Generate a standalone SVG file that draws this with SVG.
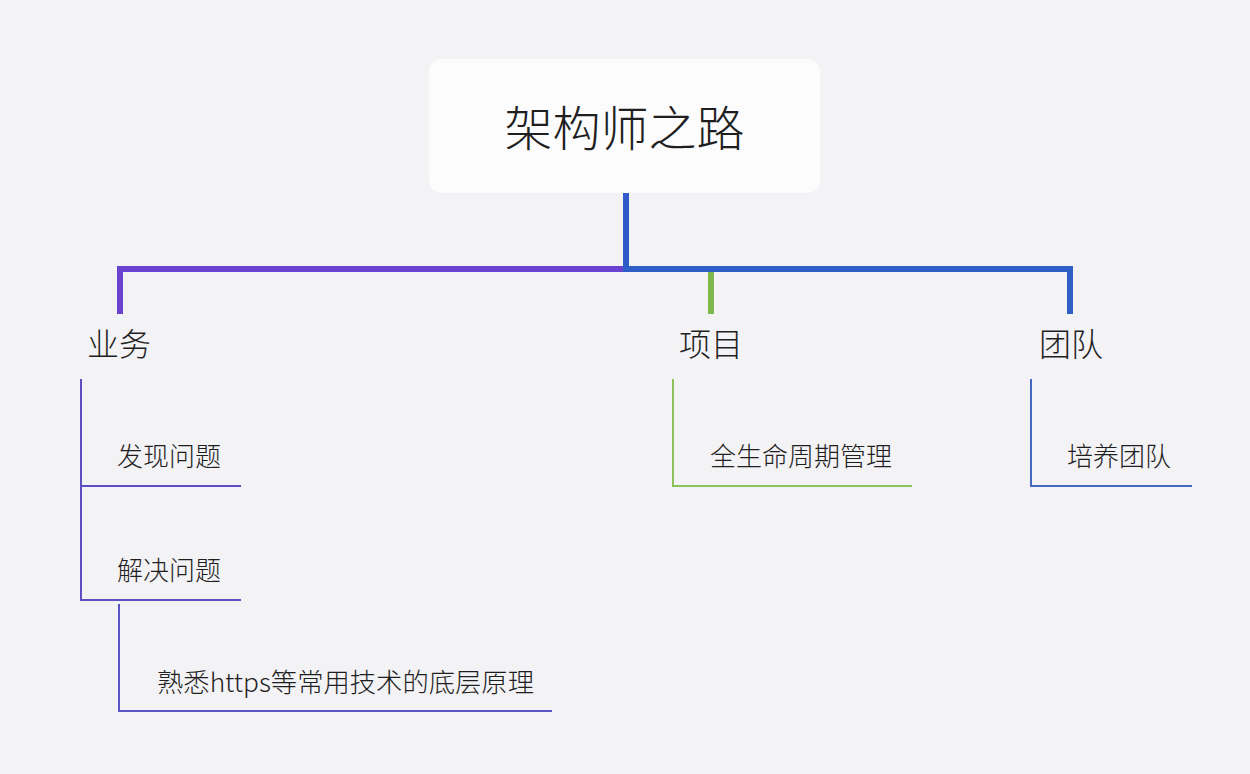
<svg xmlns="http://www.w3.org/2000/svg" width="1250" height="774" viewBox="0 0 1250 774">
<style>
text{font-family:"Noto Sans CJK SC","Noto Sans",sans-serif;fill:#1f1f1f;font-weight:300}
.root{font-size:48px}
.l1{font-size:32px}
.l2{font-size:26px}
.main{fill:none;stroke-width:6;stroke-linecap:butt}
.sub{fill:none;stroke-width:2}
</style>
<rect width="1250" height="774" fill="#f3f2f5"/>
<g id="connectors">
<path class="main" d="M626 193V269" stroke="#2f5cc8"/>
<path class="main" d="M626 269H120V314" stroke="#6a42d2"/>
<path class="main" d="M623 269H1070V314" stroke="#2f5fc6"/>
<path class="main" d="M711 272V314" stroke="#7cb84a" stroke-width="5"/>
<path class="sub" d="M81 379V600H241M81 486H241" stroke="#5e50c2"/>
<path class="sub" d="M119 604V711H552" stroke="#5a55c0"/>
<path class="sub" d="M673 379V486H912" stroke="#8cc35a"/>
<path class="sub" d="M1031 379V486H1192" stroke="#4468c4"/>
</g>
<g id="root">
<rect x="429" y="59" width="391" height="134" rx="13" fill="#fcfcfd"/>
<text class="root" x="624.5" y="146" text-anchor="middle">架构师之路</text>
</g>
<g id="yewu"><text class="l1" x="87" y="356">业务</text></g>
<g id="xiangmu"><text class="l1" x="679" y="356">项目</text></g>
<g id="tuandui"><text class="l1" x="1039" y="356">团队</text></g>
<g id="faxian"><text class="l2" x="117" y="466">发现问题</text></g>
<g id="jiejue"><text class="l2" x="117" y="580">解决问题</text></g>
<g id="shuxi"><text class="l2" x="157" y="692" font-size="25" textLength="377" lengthAdjust="spacingAndGlyphs">熟悉https等常用技术的底层原理</text></g>
<g id="quanshengming"><text class="l2" x="710" y="466">全生命周期管理</text></g>
<g id="peiyang"><text class="l2" x="1067" y="466">培养团队</text></g>
</svg>
